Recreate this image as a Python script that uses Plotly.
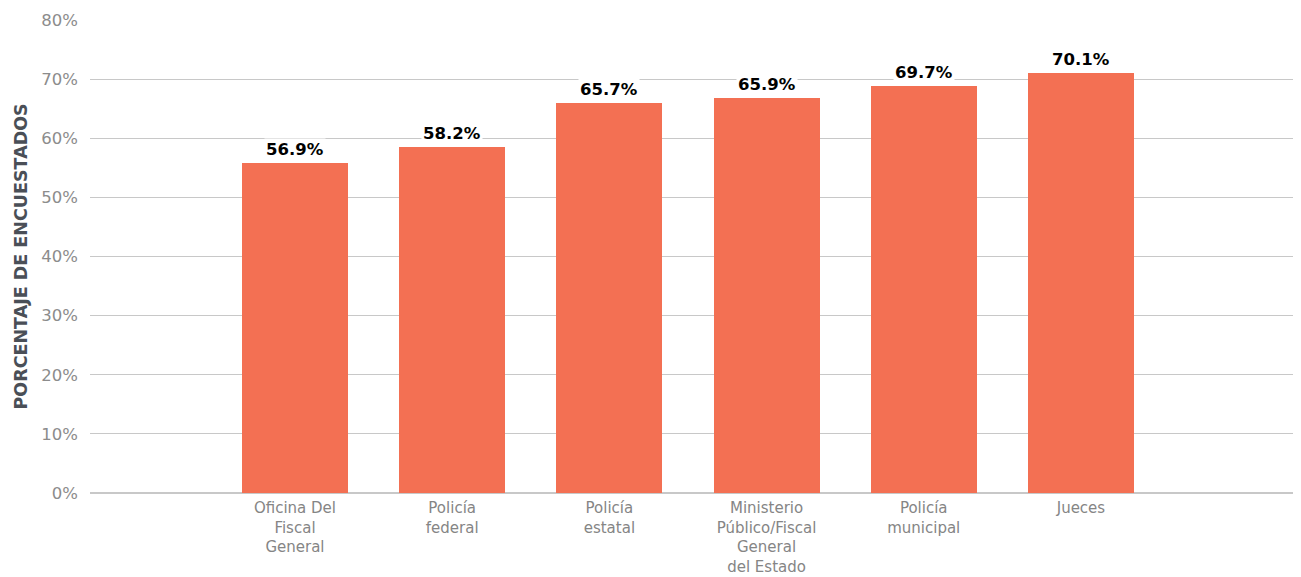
import plotly.graph_objects as go

categories = ["Oficina Del<br>Fiscal<br>General", "Policía<br>federal", "Policía<br>estatal",
              "Ministerio<br>Público/Fiscal<br>General<br>del Estado", "Policía<br>municipal", "Jueces"]
bar_values = [55.8, 58.5, 66.0, 66.8, 68.9, 71.1]
label_texts = ["56.9%", "58.2%", "65.7%", "65.9%", "69.7%", "70.1%"]
y_ticks = [0, 10, 20, 30, 40, 50, 60, 70, 80]
y_tick_text = [f"{v}%" for v in y_ticks]

FONT = "DejaVu Sans"
# page has an 8px body margin: figure is sized/offset to compensate
W, H = 1293, 569
L, R, T, B = 82, 0, 12, 84
plot_w = W - L - R

fig = go.Figure()
fig.add_trace(go.Bar(x=categories, y=bar_values, marker=dict(color="#F37053", line=dict(width=0)),
                     width=0.674, hoverinfo="skip"))

for c, v, t in zip(categories, bar_values, label_texts):
    fig.add_annotation(x=c, y=v, text=f"<b>{t}</b>", showarrow=False, yanchor="bottom", yshift=2,
                       font=dict(family=FONT, size=16.5, color="#000000"), bgcolor="white", borderpad=1)

fig.add_annotation(xref="paper", yref="paper", x=-70 / plot_w, y=0.5, text="<b>PORCENTAJE DE ENCUESTADOS</b>",
                   textangle=-90, showarrow=False, xanchor="center", yanchor="middle",
                   font=dict(family=FONT, size=17.5, color="#4A4F57"))

fig.update_layout(
    width=W, height=H, margin=dict(l=L, r=R, t=T, b=B, autoexpand=False),
    plot_bgcolor="white", paper_bgcolor="white", showlegend=False, bargap=0,
    xaxis=dict(range=[-1.304, 6.40], showgrid=False, zeroline=False, showline=False, ticks="",
               ticklabelstandoff=4, automargin=False,
               tickfont=dict(family=FONT, size=15, color="#858585"), fixedrange=True),
    yaxis=dict(range=[0, 80], tickvals=y_ticks, ticktext=y_tick_text, showgrid=True, gridcolor="#C8C8C8",
               gridwidth=1, zeroline=True, zerolinecolor="#C8C8C8", showline=False, ticks="",
               automargin=False,
               ticklabelstandoff=11, tickfont=dict(family=FONT, size=16.5, color="#8C8C8C")),
)
fig.write_html("out.html")
